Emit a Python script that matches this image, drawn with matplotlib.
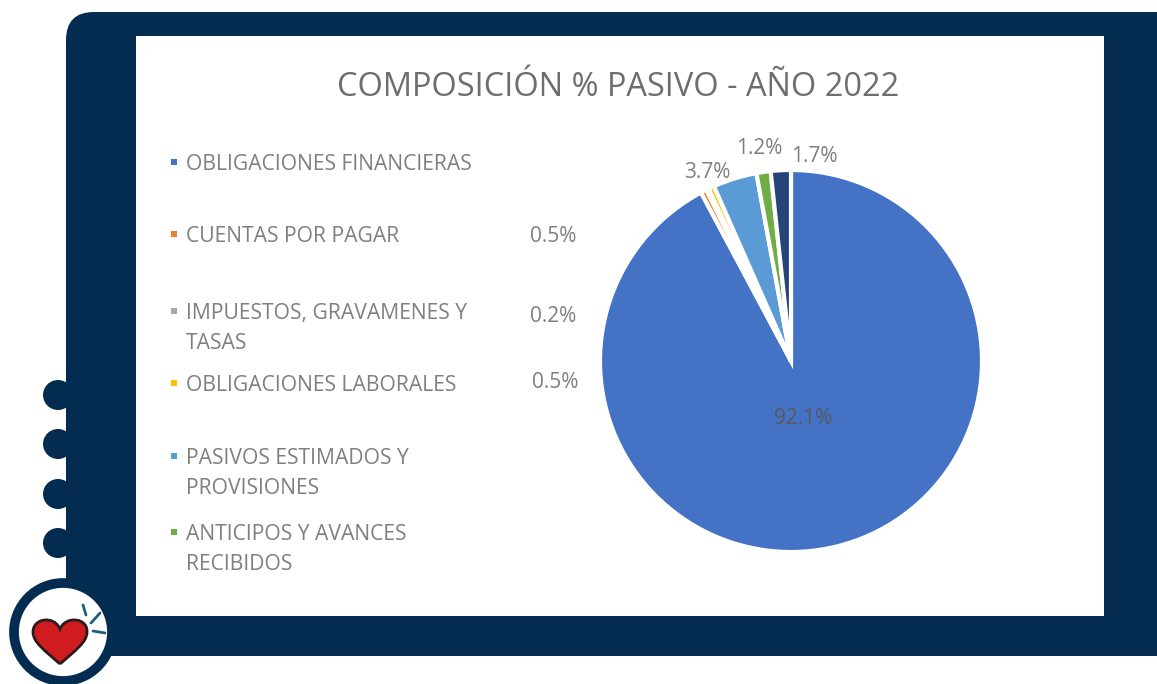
import matplotlib
matplotlib.use("Agg")
import matplotlib.pyplot as plt
from matplotlib.patches import Circle, FancyBboxPatch, PathPatch, Rectangle
from matplotlib.path import Path

W, H = 1157, 684

# datos del grafico
categorias = ["OBLIGACIONES FINANCIERAS", "CUENTAS POR PAGAR",
              "IMPUESTOS, GRAVAMENES Y\nTASAS", "OBLIGACIONES LABORALES",
              "PASIVOS ESTIMADOS Y\nPROVISIONES", "ANTICIPOS Y AVANCES\nRECIBIDOS",
              "OTROS PASIVOS"]
valores = [92.1, 0.5, 0.2, 0.5, 3.7, 1.2, 1.7]
colores = ["#4472C4", "#ED7D31", "#A5A5A5", "#FFC000", "#5B9BD5", "#70AD47", "#264478"]

# posiciones en pixeles de la imagen
pos_leyenda = [162, 234, 311, 383, 456, 532]
pos_etiquetas = [(803, 418), (553, 236), (553, 316), (555, 383), (707, 172), (759, 149), (814, 156)]
bolitas_y = [395, 444, 494, 543]

NAVY = "#042C50"
GRIS = "#7F7F7F"


def yy(y):
    return H - y


fig = plt.figure(figsize=(W / 100, H / 100), dpi=100, facecolor="white")
ax = fig.add_axes([0, 0, 1, 1])

# marco del fondo
ax.add_patch(FancyBboxPatch((66, yy(656)), 1200, 644, boxstyle="round,pad=0,rounding_size=28",
                            fc=NAVY, ec="none", zorder=1))
for y in bolitas_y:
    ax.add_patch(Circle((58, yy(y)), 15, fc=NAVY, ec="none", zorder=1))
ax.add_patch(Rectangle((136, yy(616)), 968, 580, fc="white", ec="none", zorder=2))

# circulo con el corazon
ax.add_patch(Circle((63, yy(632)), 49, fc="white", ec=NAVY, lw=7, zorder=3))
verts = [(60, 664), (44, 650), (33, 642), (33, 632), (33, 618), (54, 615), (60, 629),
         (66, 615), (88, 618), (87, 632), (87, 642), (76, 650), (60, 664)]
codes = [Path.MOVETO] + [Path.CURVE4] * 12
ax.add_patch(PathPatch(Path([(x, yy(y)) for x, y in verts], codes),
                       fc="#D01C1F", ec="#2A1A1E", lw=2, zorder=4))
for x0, y0, x1, y1 in [(83, 605, 86, 615), (100, 613, 91, 623), (105, 633, 93, 631)]:
    ax.plot([x0, x1], [yy(y0), yy(y1)], color="#1F5F78", lw=2, solid_capstyle="round", zorder=4)

# pastel
wedges, _ = ax.pie(valores, colors=colores, startangle=90, counterclock=False,
                   center=(791, yy(361)), radius=191,
                   wedgeprops={"edgecolor": "white", "linewidth": 3, "zorder": 5})

for v, (x, y) in zip(valores, pos_etiquetas):
    ax.text(x, yy(y), f"{v:.1f}%", ha="center", va="center", fontsize=15,
            color="#595959" if v > 50 else GRIS, family="Open Sans", zorder=6)

# leyenda
for nombre, color, y in zip(categorias, colores, pos_leyenda):
    ax.add_patch(Rectangle((171, yy(y + 3)), 6, 6, fc=color, ec="none", zorder=6))
    ax.text(186, yy(y - 8), nombre, ha="left", va="top", fontsize=15.2, color=GRIS,
            family="Open Sans", linespacing=1.59, zorder=6)

ax.text(618, yy(88), "COMPOSICIÓN % PASIVO - AÑO 2022", ha="center", va="center",
        fontsize=23.4, color="#6E6E6E", family="Open Sans", zorder=6)

ax.set_xlim(0, W)
ax.set_ylim(0, H)
ax.set_aspect("auto")
ax.axis("off")

fig.savefig("out.png", dpi=100)
